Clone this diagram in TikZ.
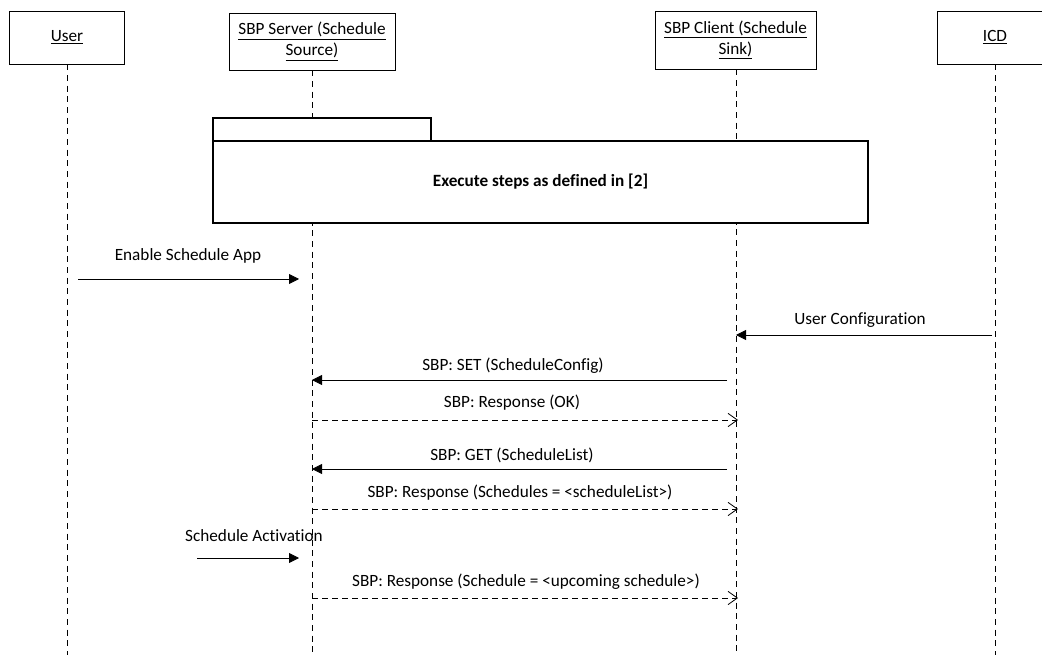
\documentclass[tikz,border=0pt]{standalone}
\usepackage{fontspec}
\setmainfont{Carlito}[Ligatures=NoCommon]
\usetikzlibrary{arrows.meta}

\tikzset{
  actor/.style={draw,fill=white,align=center,inner sep=2pt},
  lifeline/.style={dash pattern=on 4.5pt off 3.5pt},
  call/.style={-{Triangle[length=7.5pt,width=7.5pt]}},
  reply/.style={dash pattern=on 4.5pt off 3pt,-{Straight Barb[length=7pt,width=10pt]}},
  msg/.style={inner sep=1pt}
}

\begin{document}
\begin{tikzpicture}[x=0.75pt,y=-0.75pt,line width=0.6pt,font=\fontsize{12.9}{15.75}\selectfont]
        \useasboundingbox (0,0) rectangle (1042,655);

        % Actors.
        \node[actor,minimum width=86.25pt,minimum height=39.75pt] (user) at (67,37.5) {\underline{User}};
        \node[actor,minimum width=124.5pt,minimum height=42.75pt] (server) at (312,41.5) {\underline{SBP Server (Schedule}\\\underline{Source)}};
        \node[actor,minimum width=120.75pt,minimum height=43.5pt] (client) at (735.5,40) {\underline{SBP Client (Schedule}\\\underline{Sink)}};
        \node[actor,minimum width=87pt,minimum height=39.75pt] (icd) at (995,37.5) {\underline{ICD}};

        % Lifelines.
        \coordinate (user-end) at (67,655);
        \coordinate (server-end) at (312,655);
        \coordinate (client-end) at (736,655);
        \coordinate (icd-end) at (995,655);
        \draw[lifeline] (user.south) -- (user-end);
        \draw[lifeline] (server.south) -- (server-end);
        \draw[lifeline] (client.south -| client-end) -- (client-end);
        \draw[lifeline] (icd.south) -- (icd-end);

        % Reference frame.
        \draw[fill=white,line width=1.1pt] (213,118) rectangle (431,141);
        \node[draw,fill=white,line width=1.1pt,minimum width=491.25pt,minimum height=61.5pt] (steps) at (540.5,182) {\textbf{Execute steps as defined in [2]}};

        % Messages.
        \coordinate (enable-a) at (78,279);
        \coordinate (enable-b) at (299,279);
        \draw[call] (enable-a) -- (enable-b);
        \node[msg] (enable) at (188,256) {Enable Schedule App};

        \coordinate (config-a) at (992,335);
        \coordinate (config-b) at (736,335);
        \draw[call] (config-a) -- (config-b);
        \node[msg] (config) at (860,320) {User Configuration};

        \coordinate (set-a) at (727,380);
        \coordinate (set-b) at (312,380);
        \draw[call] (set-a) -- (set-b);
        \node[msg] (set) at (513,366) {SBP: SET (ScheduleConfig)};

        \coordinate (ok-a) at (312,420);
        \coordinate (ok-b) at (738,420);
        \draw[reply] (ok-a) -- (ok-b);
        \node[msg] (ok) at (512,403) {SBP: Response (OK)};

        \coordinate (get-a) at (727,469);
        \coordinate (get-b) at (312,469);
        \draw[call] (get-a) -- (get-b);
        \node[msg] (get) at (512,455) {SBP: GET (ScheduleList)};

        \coordinate (list-a) at (312,509);
        \coordinate (list-b) at (738,509);
        \draw[reply] (list-a) -- (list-b);
        \node[msg] (list) at (520,493) {SBP: Response (Schedules = <scheduleList>)};

        \coordinate (act-a) at (197,558);
        \coordinate (act-b) at (299,558);
        \draw[call] (act-a) -- (act-b);
        \node[msg] (act) at (254,536) {Schedule Activation};

        \coordinate (next-a) at (312,598);
        \coordinate (next-b) at (738,598);
        \draw[reply] (next-a) -- (next-b);
        \node[msg] (next) at (526,582) {SBP: Response (Schedule = <upcoming schedule>)};
\end{tikzpicture}
\end{document}
